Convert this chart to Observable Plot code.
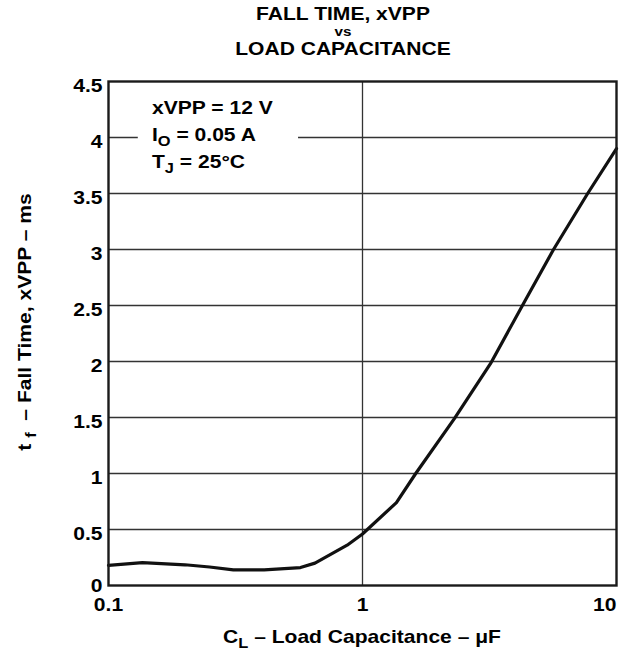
<!DOCTYPE html>
<html><head><meta charset="utf-8">
<script src="https://cdn.jsdelivr.net/npm/d3@7"></script>
<script src="https://cdn.jsdelivr.net/npm/@observablehq/plot@0.6"></script>
<style>
body{margin:0;background:#fff}
#chart svg{font-family:"Liberation Sans",Arial,sans-serif;display:block}
</style>
</head><body><div id="chart"></div>
<script>
// Load capacitance (µF) and fall time (ms)
const capacitance = [0.1, 0.136, 0.2, 0.25, 0.31, 0.41, 0.57, 0.65, 0.87, 1.0, 1.36, 1.62, 2.3, 3.19, 4.37, 5.65, 7.7, 10];
const fallTime    = [0.18, 0.205, 0.185, 0.165, 0.14, 0.14, 0.16, 0.2, 0.36, 0.46, 0.74, 1.0, 1.49, 1.98, 2.545, 3.0, 3.5, 3.9];

const yTicks = [0, 0.5, 1, 1.5, 2, 2.5, 3, 3.5, 4, 4.5];
const xTicks = [0.1, 1, 10];
const xGrid = [1];
const titleLines = ["FALL TIME, xVPP", "vs", "LOAD CAPACITANCE"];
const conditions = [
  [{text: "xVPP = 12 V"}],
  [{text: "I"}, {text: "O", sub: true}, {text: " = 0.05 A"}],
  [{text: "T"}, {text: "J", sub: true}, {text: " = 25°C"}]
];
const xLabel = [{text: "C"}, {text: "L", sub: true}, {text: " – Load Capacitance – μF"}];
const yLabel = [{text: "t "}, {text: "f", sub: true}, {text: "  – Fall Time, xVPP – ms"}];
// white box behind the condition text (data units)
const conditionBox = [{x1: 0.131, x2: 0.56, y1: 3.7, y2: 4.3}];

const data = capacitance.map((c, i) => ({c, t: fallTime[i]}));
const fmt = d => String(d);

const plot = Plot.plot({
  width: 626, height: 653,
  marginLeft: 108, marginRight: 10, marginTop: 81, marginBottom: 68,
  style: {fontFamily: "'Liberation Sans', Arial, sans-serif", fontWeight: "bold", fontSize: "18px", color: "#000", background: "#fff"},
  x: {type: "log", domain: [0.1, 10]},
  y: {domain: [0, 4.5]},
  marks: [
    Plot.ruleY(yTicks.slice(1, -1), {stroke: "#333", strokeWidth: 1.3}),
    Plot.ruleX(xGrid, {stroke: "#333", strokeWidth: 1.3}),
    Plot.rect(conditionBox, {x1: "x1", x2: "x2", y1: "y1", y2: "y2", fill: "white"}),
    Plot.line(data, {x: "c", y: "t", stroke: "#111", strokeWidth: 3.2}),
    Plot.frame({stroke: "#1a1a1a", strokeWidth: 2.4}),
    Plot.axisY(yTicks.slice(1), {tickSize: 0, tickPadding: 6, tickFormat: fmt, label: null, dy: 5, fill: "#000"}),
    Plot.axisY(yTicks.slice(0, 1), {tickSize: 0, tickPadding: 6, tickFormat: fmt, label: null, dy: 1, fill: "#000"}),
    Plot.axisX(xTicks.slice(0, 2), {tickSize: 0, tickPadding: 13, tickFormat: fmt, label: null, fill: "#000"}),
    Plot.axisX(xTicks.slice(2), {tickSize: 0, tickPadding: 13, tickFormat: fmt, label: null, textAnchor: "end", dx: 0, fill: "#000"})
  ]
});
document.getElementById("chart").appendChild(plot);

const K = 1.17; // glyphs in the reference are wider than Arial
// widen tick labels
d3.select(plot).selectAll("text").each(function () {
  if (this.childElementCount === 0) {
    const len = this.getComputedTextLength();
    this.setAttribute("textLength", (len * K).toFixed(2));
    this.setAttribute("lengthAdjust", "spacingAndGlyphs");
  }
});

const svg = d3.select(plot);
function addText(x, y, parts, {size = 18, anchor = "start", rotate = 0} = {}) {
  const t = svg.append("text")
    .attr("transform", `translate(${x},${y}) rotate(${rotate}) scale(${K},1)`)
    .attr("text-anchor", anchor)
    .attr("font-size", size)
    .attr("font-weight", "bold")
    .attr("fill", "#000");
  let shifted = false;
  parts.forEach(p => {
    const s = t.append("tspan").text(p.text);
    if (p.sub) { s.attr("font-size", size * 0.78).attr("dy", 5); shifted = true; }
    else if (shifted) { s.attr("dy", -5); shifted = false; }
  });
  return t;
}

addText(343, 20, [{text: titleLines[0]}], {anchor: "middle"});
addText(343, 36, [{text: titleLines[1]}], {anchor: "middle", size: 13});
addText(343, 55, [{text: titleLines[2]}], {anchor: "middle"});
conditions.forEach((c, i) => addText(152, 114 + i * 27, c));
addText(362, 643, xLabel, {anchor: "middle"});
addText(31, 322, yLabel, {anchor: "middle", rotate: -90});
</script>
</body></html>
